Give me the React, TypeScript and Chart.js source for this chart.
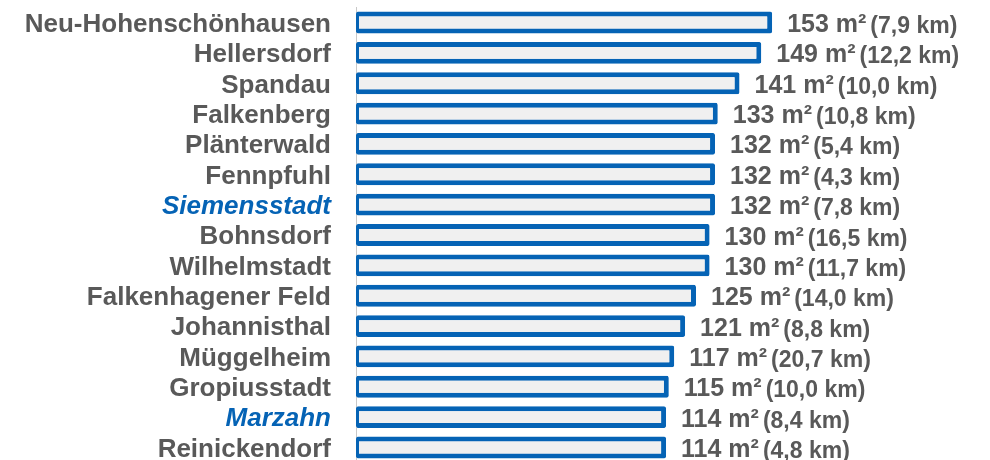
import React, { useEffect, useRef } from "react";
import { Chart, registerables } from "chart.js";

Chart.register(...registerables);

const districts = [
  "Neu-Hohenschönhausen",
  "Hellersdorf",
  "Spandau",
  "Falkenberg",
  "Plänterwald",
  "Fennpfuhl",
  "Siemensstadt",
  "Bohnsdorf",
  "Wilhelmstadt",
  "Falkenhagener Feld",
  "Johannisthal",
  "Müggelheim",
  "Gropiusstadt",
  "Marzahn",
  "Reinickendorf",
];

const areaM2 = [153, 149, 141, 133, 132, 132, 132, 130, 130, 125, 121, 117, 115, 114, 114];

const distanceKm = [
  "7,9", "12,2", "10,0", "10,8", "5,4", "4,3", "7,8", "16,5",
  "11,7", "14,0", "8,8", "20,7", "10,0", "8,4", "4,8",
];

const highlighted = ["Siemensstadt", "Marzahn"];

const FONT = "'Liberation Sans', Arial, sans-serif";
const GRAY = "#595959";
const BLUE = "#0563B5";

const labelPlugin = {
  id: "barLabels",
  afterDraw(chart: any) {
    const ctx = chart.ctx;
    const yScale = chart.scales.y;
    const meta = chart.getDatasetMeta(0);
    const left = chart.chartArea.left;
    ctx.save();
    districts.forEach((name, i) => {
      const y = yScale.getPixelForValue(i);
      const isHi = highlighted.includes(name);
      ctx.textAlign = "right";
      ctx.textBaseline = "alphabetic";
      ctx.font = (isHi ? "italic " : "") + "bold 26px " + FONT;
      ctx.fillStyle = isHi ? BLUE : GRAY;
      ctx.fillText(name, left - 25, y + 9.3);

      const bar = meta.data[i];
      const xEnd = bar.x;
      ctx.textAlign = "left";
      ctx.fillStyle = GRAY;
      ctx.font = "bold 25px " + FONT;
      const valText = areaM2[i] + " m²";
      ctx.fillText(valText, xEnd + 15, y + 9.5);
      const w = ctx.measureText(valText).width;
      ctx.font = "bold 23px " + FONT;
      ctx.fillText("(" + distanceKm[i] + " km)", xEnd + 15 + w + 4, y + 10.5);
    });
    ctx.restore();
  },
};

export default function App() {
  const ref = useRef<HTMLCanvasElement | null>(null);

  useEffect(() => {
    if (!ref.current) return;
    const chart = new Chart(ref.current, {
      type: "bar",
      data: {
        labels: districts,
        datasets: [
          {
            data: areaM2,
            backgroundColor: "#F0F0F0",
            borderColor: BLUE,
            borderWidth: { top: 5, bottom: 5, left: 3, right: 5 },
            borderSkipped: false,
            borderRadius: 2,
            barPercentage: 0.72,
            categoryPercentage: 1,
          },
        ],
      },
      options: {
        indexAxis: "y",
        animation: false,
        responsive: false,
        maintainAspectRatio: false,
        layout: { padding: { left: 0, right: 90, top: 7.3, bottom: 7.3 } },
        plugins: {
          legend: { display: false },
          tooltip: { enabled: false },
        },
        scales: {
          x: { display: false, min: 0, max: 200 },
          y: {
            grid: { display: false, drawTicks: false },
            border: { display: true, color: "#C8C8C8", width: 1 },
            ticks: { display: false },
            afterFit: (scale: any) => {
              scale.width = 356;
            },
          },
        },
      },
      plugins: [labelPlugin],
    } as any);
    return () => chart.destroy();
  }, []);

  return (
    <div
      style={{
        position: "absolute",
        left: 0,
        top: 0,
        width: 990,
        height: 460,
        overflow: "hidden",
        background: "#fff",
      }}
    >
      <canvas ref={ref} width={990} height={470} style={{ display: "block" }} />
    </div>
  );
}
